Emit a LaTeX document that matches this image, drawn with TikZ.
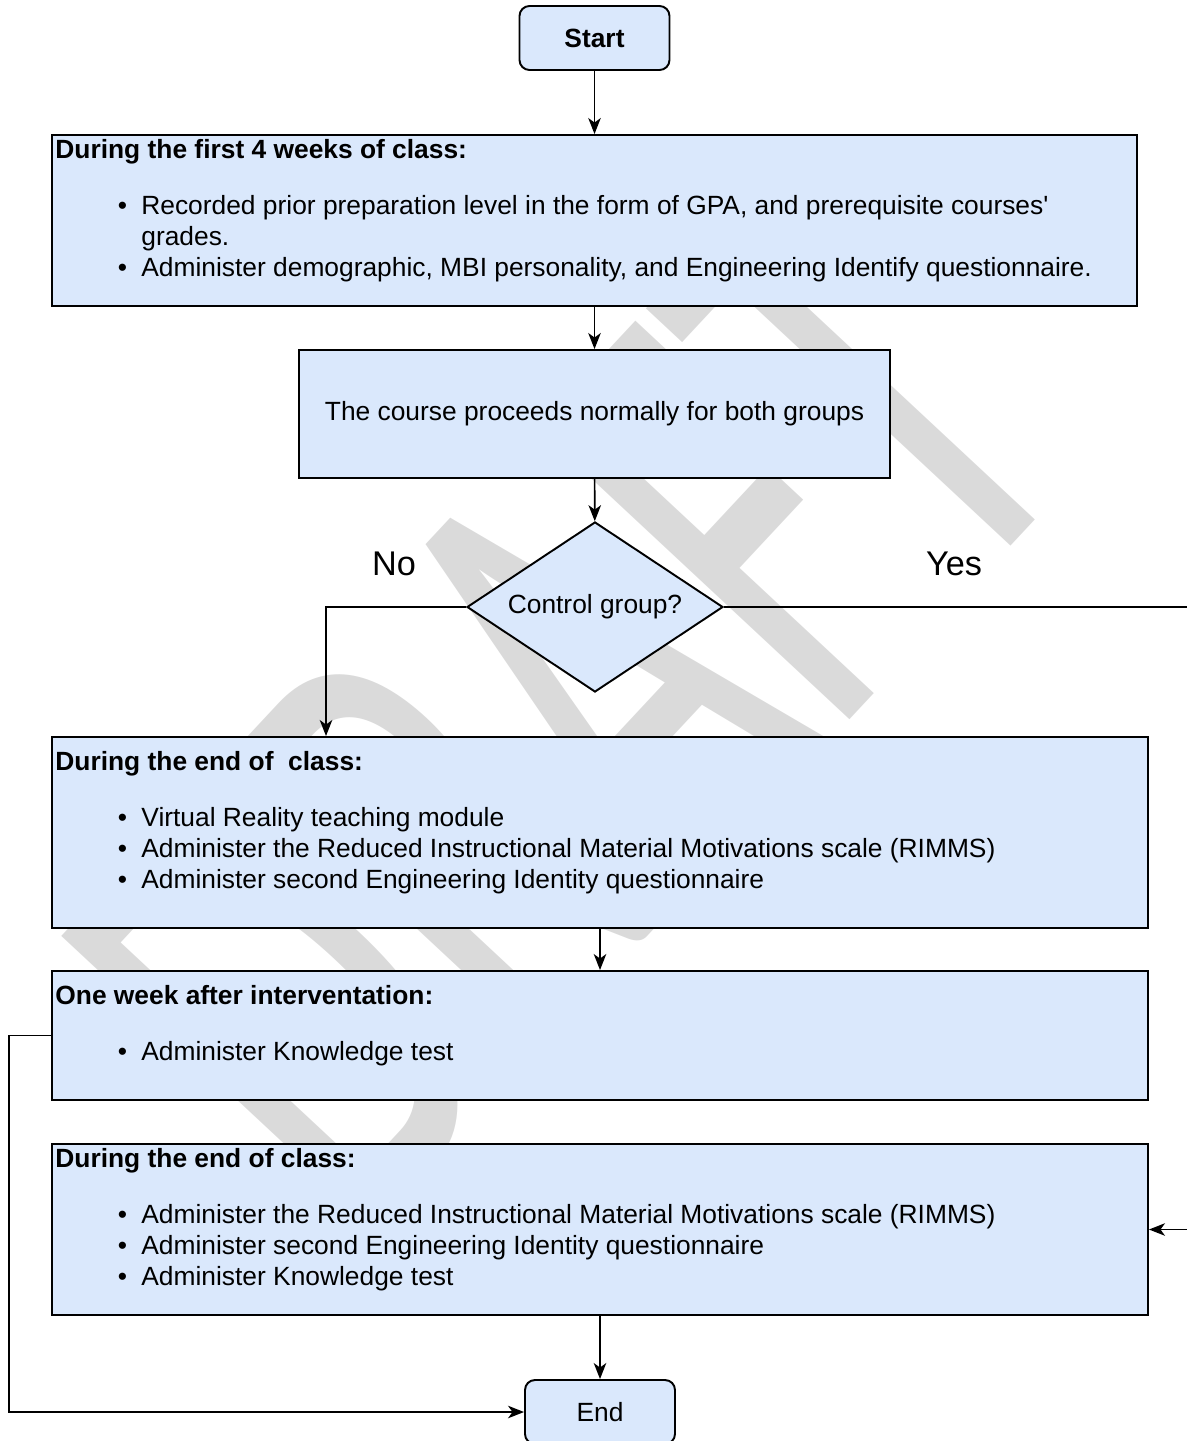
\documentclass[tikz,border=0pt]{standalone}
\usepackage{fontspec}
\setmainfont{Liberation Sans}
\newfontfamily\wmfont{Carlito}
\usetikzlibrary{shapes.geometric, arrows.meta, positioning}

\definecolor{boxblue}{HTML}{DAE8FC}
\definecolor{wmgray}{HTML}{DADADA}

\newcommand{\bul}{\hspace*{1.25cm}\makebox[0.47cm][l]{\textbullet}}
\newcommand{\cont}{\hspace*{1.72cm}}

\begin{document}
\begin{tikzpicture} [font=\fontsize{15}{17.64}\selectfont,
            panel/.style = {draw=black, fill=boxblue, line width=1.1pt, inner sep=0pt},
            terminal/.style = {panel, rounded corners=0.2cm,
                minimum width=3cm, minimum height=1.28cm},
            decision/.style = {panel, diamond, aspect=1.5,
                minimum width=5.12cm, minimum height=3.4cm},
            boxtext/.style = {anchor=north west, align=left, inner sep=0pt},
            answer/.style = {font=\fontsize{19.5}{22}\selectfont},
            wmark/.style = {text=wmgray, rotate=47, xscale=0.6,
                font=\wmfont\fontsize{380}{380}\selectfont},
            link/.style = {-{Stealth[length=0.32cm, width=0.25cm, inset=0.09cm]},
                line width=0.9pt}]

            \useasboundingbox (0,0) rectangle (23.74,-28.82);

            % Watermark
            \node (draft) [wmark] at (11.33,-14.18) {DRAFT};

            % Start
            \node (start) [terminal] at (11.89,-0.76) {\textbf{Start}};

            % First weeks
            \node (wk) [panel, minimum width=21.7cm, minimum height=3.42cm]
                at (11.89,-4.41) {};
            \node (wktxt) [boxtext] at ([shift={(0.08,-0.1)}]wk.north west)
                {\textbf{During the first 4 weeks of class:}\\[14.2pt]
                \bul Recorded prior preparation level in the form of GPA, and prerequisite courses\textquotesingle\\
                \cont grades.\\
                \bul Administer demographic, MBI personality, and Engineering Identify questionnaire.};

            % Normal course
            \node (norm) [panel, minimum width=11.82cm, minimum height=2.56cm]
                at (11.89,-8.28) {The course proceeds normally for both groups};

            % Decision
            \node (ctrl) [decision] at (11.9,-12.14) {Control group?};
            \node (no) [answer] at (7.88,-11.28) {No};
            \node (yes) [answer] at (19.08,-11.28) {Yes};

            % VR module
            \node (vr) [panel, minimum width=21.92cm, minimum height=3.82cm]
                at (12.0,-16.65) {};
            \node (vrtxt) [boxtext] at ([shift={(0.08,-0.3)}]vr.north west)
                {\textbf{During the end of \ class:}\\[14.2pt]
                \bul Virtual Reality teaching module\\
                \bul Administer the Reduced Instructional Material Motivations scale (RIMMS)\\
                \bul Administer second Engineering Identity questionnaire};

            % One week after
            \node (wkafter) [panel, minimum width=21.92cm, minimum height=2.58cm]
                at (12.0,-20.71) {};
            \node (wkaftertxt) [boxtext] at ([shift={(0.08,-0.3)}]wkafter.north west)
                {\textbf{One week after interventation:}\\[14.2pt]
                \bul Administer Knowledge test};

            % End of class (control)
            \node (endcls) [panel, minimum width=21.92cm, minimum height=3.42cm]
                at (12.0,-24.59) {};
            \node (endclstxt) [boxtext] at ([shift={(0.08,-0.1)}]endcls.north west)
                {\textbf{During the end of class:}\\[14.2pt]
                \bul Administer the Reduced Instructional Material Motivations scale (RIMMS)\\
                \bul Administer second Engineering Identity questionnaire\\
                \bul Administer Knowledge test};

            % End
            \node (fin) [terminal] at (12.0,-28.24) {End};

            % Bends
            \coordinate (nobend) at (6.52,-12.14);
            \coordinate (yesfar) at (24.2,-12.14);
            \coordinate (loopx) at (0.18,-20.71);

            % Arrows
            \draw [link] (start) -- (wk);
            \draw [link] (wk) -- (norm);
            \draw [link] (norm) -- (ctrl);
            \draw [link] (ctrl.west) -- (nobend) -- (nobend |- vr.north);
            \draw [link] (ctrl.east) -- (yesfar) |- (endcls.east);
            \draw [link] (vr) -- (wkafter);
            \draw [link] (endcls) -- (fin);
            \draw [link] (wkafter.west) -- (loopx) |- (fin.west);
\end{tikzpicture}
\end{document}
